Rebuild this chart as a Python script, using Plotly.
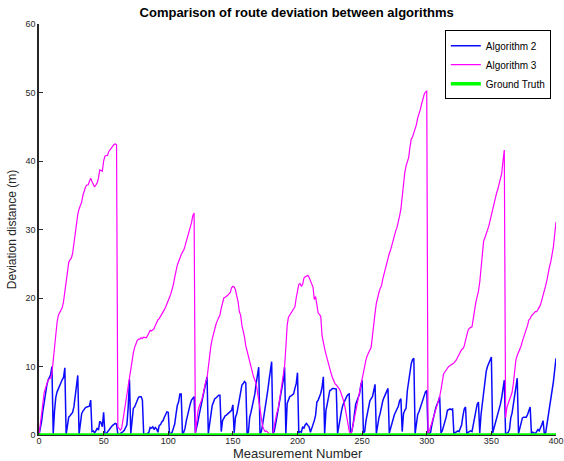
import plotly.graph_objects as go

measurement = list(range(0, 401))

algorithm2 = [0.0,
    0.8, 2.0, 3.5, 5.0, 6.3, 7.2, 8.0, 8.3, 8.8, 10.0,
    0.2, 3.5, 5.5, 6.3, 6.8, 7.1, 7.5, 8.1, 8.4, 9.8,
    0.1, 1.5, 2.6, 2.8, 3.1, 3.3, 4.1, 5.5, 6.8, 8.7,
    0.1, 1.8, 3.1, 3.5, 3.8, 4.0, 4.1, 4.1, 4.2, 5.1,
    0.5, 0.6, 0.3, 0.6, 1.0, 0.7, 2.0, 1.8, 1.2, 3.3,
    0.2, 0.2, 0.5, 0.8, 1.0, 1.2, 1.4, 1.6, 1.7, 1.6,
    0.1, 0.1, 0.2, 0.3, 0.5, 0.7, 1.0, 1.5, 4.0, 8.1,
    0.2, 2.0, 3.9, 4.1, 4.6, 5.1, 5.5, 5.6, 5.6, 5.1,
    0.1, 0.1, 0.1, 0.2, 0.4, 1.1, 1.0, 1.2, 0.8, 1.1,
    0.9, 0.4, 1.4, 1.5, 1.9, 2.1, 2.6, 3.0, 3.4, 3.3,
    0.1, 0.2, 0.4, 1.0, 1.6, 3.0, 4.3, 4.8, 6.0, 6.0,
    0.1, 0.4, 1.0, 2.1, 3.0, 3.9, 4.5, 5.1, 5.3, 5.6,
    0.3, 1.0, 2.0, 3.0, 4.0, 5.0, 6.0, 7.0, 7.8, 8.5,
    0.2, 1.5, 3.1, 4.3, 4.8, 5.3, 5.4, 5.6, 5.8, 5.8,
    0.5, 2.1, 2.6, 2.8, 2.9, 3.1, 3.3, 3.4, 3.6, 4.4,
    0.3, 2.6, 3.1, 4.1, 5.3, 6.5, 7.3, 7.5, 7.8, 7.6,
    0.2, 0.4, 2.6, 3.3, 4.1, 5.1, 6.0, 7.5, 8.5, 9.9,
    0.1, 0.5, 1.5, 2.6, 3.8, 5.1, 6.5, 8.0, 9.5, 10.7,
    0.2, 0.5, 1.5, 2.6, 3.6, 4.5, 5.6, 6.5, 8.0, 9.9,
    0.2, 4.6, 5.0, 5.6, 5.7, 5.8, 6.0, 6.8, 7.5, 9.1,
    0.3, 0.5, 0.4, 1.2, 1.0, 1.5, 1.7, 1.4, 1.2, 0.4,
    0.9, 1.5, 2.1, 2.9, 4.8, 5.1, 5.5, 6.1, 7.0, 8.5,
    0.2, 3.6, 4.5, 5.8, 6.5, 6.6, 6.8, 6.8, 6.8, 6.7,
    0.2, 1.5, 2.9, 3.5, 4.3, 4.8, 5.2, 5.6, 5.9, 6.0,
    0.1, 0.5, 1.5, 3.0, 4.5, 5.0, 5.4, 6.0, 7.3, 8.0,
    0.3, 0.5, 2.1, 3.0, 4.2, 5.0, 5.3, 5.6, 6.5, 7.4,
    0.2, 1.5, 2.5, 3.2, 4.2, 5.0, 5.5, 6.0, 6.5, 6.8,
    0.3, 1.0, 2.0, 2.6, 3.0, 3.4, 3.8, 4.2, 5.0, 5.3,
    0.5, 3.1, 3.6, 3.9, 6.5, 8.0, 9.5, 10.4, 11.0, 11.2,
    0.2, 1.3, 3.0, 3.4, 4.0, 4.6, 5.0, 5.7, 6.3, 6.5,
    0.1, 0.2, 0.4, 1.5, 2.5, 3.5, 4.0, 4.5, 4.9, 5.6,
    0.3, 0.6, 1.2, 2.0, 2.6, 3.6, 3.7, 3.8, 3.7, 3.8,
    0.2, 0.3, 0.5, 0.6, 0.5, 1.0, 1.5, 2.8, 3.8, 4.1,
    0.1, 0.4, 0.5, 0.6, 0.5, 1.5, 2.5, 3.5, 4.5, 4.8,
    0.3, 3.0, 4.5, 6.5, 8.0, 9.3, 10.0, 10.5, 11.0, 11.4,
    0.3, 1.0, 1.5, 2.3, 3.0, 3.6, 4.5, 5.5, 6.8, 8.0,
    0.1, 0.2, 0.4, 0.8, 2.5, 3.2, 4.5, 5.8, 7.0, 8.3,
    0.2, 1.0, 2.0, 2.5, 2.6, 2.6, 2.6, 3.0, 3.5, 4.1,
    0.2, 0.4, 0.3, 0.2, 0.5, 0.8, 0.6, 1.0, 1.5, 2.1,
    0.1, 0.3, 1.5, 3.0, 4.5, 5.5, 6.5, 7.8, 9.5, 11.2,
]

algorithm3 = [0.0,
    1.8, 3.5, 5.0, 6.2, 6.8, 7.5, 8.0, 8.2, 8.3, 9.0,
    11.0, 12.5, 14.5, 16.5, 17.5, 17.9, 18.2, 18.6, 19.5, 21.0,
    22.6, 24.0, 25.2, 25.6, 25.8, 26.5, 28.0, 30.0, 31.5, 32.2,
    33.0, 33.5, 34.0, 35.0, 35.8, 36.2, 36.5, 36.5, 37.0, 37.5,
    37.0, 36.5, 36.2, 36.5, 36.8, 37.5, 38.7, 38.6, 38.5, 40.0,
    40.7, 40.8, 40.8, 41.4, 41.7, 42.0, 42.1, 42.4, 42.5, 42.4,
    1.2, 1.0, 0.7, 1.0, 2.3, 3.5, 4.5, 5.5, 7.0, 8.5,
    9.8, 10.8, 12.0, 12.8, 13.4, 13.8, 14.0, 14.0, 14.2, 14.1,
    14.3, 14.3, 14.2, 14.5, 15.0, 15.3, 15.2, 15.3, 15.5, 16.0,
    16.5, 16.8, 17.0, 17.3, 17.6, 18.0, 18.3, 18.7, 19.1, 19.6,
    20.1, 20.6, 21.2, 22.0, 23.0, 24.0, 24.8, 25.3, 25.9, 26.3,
    26.7, 27.0, 27.6, 28.3, 28.8, 29.4, 30.0, 31.0, 32.0, 32.4,
    0.3, 2.0, 3.5, 4.2, 4.6, 5.2, 6.0, 7.0, 7.8, 8.3,
    10.0, 12.0, 13.0, 14.0, 14.8, 15.5, 16.2, 16.7, 17.1, 17.5,
    18.5, 19.5, 20.0, 20.1, 20.2, 20.4, 20.6, 20.8, 21.5, 21.7,
    21.6, 21.2, 20.3, 19.5, 18.0, 17.5, 16.0, 15.2, 14.3, 13.0,
    12.2, 11.3, 10.6, 10.0, 9.2, 8.5, 8.0, 7.5, 6.3, 5.0,
    3.8, 2.5, 1.3, 0.8, 0.5, 0.6, 0.3, 0.2, 0.1, 0.0,
    0.3, 1.5, 2.5, 3.2, 3.8, 5.0, 6.5, 8.0, 9.0, 10.0,
    12.8, 16.0, 17.2, 17.5, 17.7, 18.0, 18.3, 18.7, 20.0, 21.4,
    22.0, 22.1, 21.7, 22.0, 22.9, 23.1, 23.2, 23.3, 23.0, 22.6,
    22.2, 21.6, 19.8, 20.2, 19.0, 17.8, 17.6, 17.3, 14.5, 13.2,
    12.6, 11.8, 11.0, 10.4, 9.6, 9.0, 8.4, 7.9, 7.5, 7.3,
    7.1, 6.8, 6.5, 6.0, 5.5, 4.8, 3.8, 2.8, 1.5, 0.6,
    0.2, 0.5, 1.5, 2.5, 3.5, 4.3, 5.2, 6.2, 7.3, 8.3,
    9.3, 10.2, 11.0, 11.6, 12.0, 12.3, 12.8, 14.5, 16.5, 17.8,
    19.2, 20.2, 20.8, 21.4, 21.8, 22.8, 23.6, 24.3, 25.2, 25.8,
    26.5, 27.0, 27.8, 28.6, 29.3, 29.8, 30.3, 31.0, 32.0, 33.0,
    35.0, 36.8, 38.3, 39.3, 39.8, 40.5, 42.0, 43.2, 43.5, 44.0,
    44.6, 45.3, 46.3, 46.8, 47.5, 48.3, 49.2, 49.7, 50.1, 50.2,
    0.3, 0.6, 1.2, 1.8, 2.4, 3.2, 3.9, 4.5, 5.0, 5.6,
    6.6, 8.0, 8.9, 9.2, 9.5, 9.9, 10.0, 10.1, 10.3, 10.4,
    10.5, 10.7, 11.0, 11.4, 11.8, 12.3, 12.5, 12.6, 13.0, 13.8,
    14.8, 15.3, 15.6, 15.7, 15.8, 17.0, 18.5, 19.4, 20.2, 21.0,
    22.3, 24.0, 26.5, 28.3, 28.8, 29.3, 29.7, 30.5, 31.3, 32.2,
    33.0, 33.8, 34.6, 35.3, 35.9, 36.6, 37.3, 38.2, 40.0, 41.6,
    2.5, 4.0, 4.6, 5.1, 5.6, 6.2, 7.5, 9.5, 11.0, 11.6,
    12.0, 12.5, 13.0, 13.7, 14.2, 14.8, 15.2, 16.0, 16.8, 17.0,
    17.4, 17.7, 17.8, 18.0, 18.0, 18.3, 18.6, 19.0, 19.7, 20.3,
    21.0, 21.8, 22.6, 23.8, 24.6, 25.3, 26.2, 27.5, 29.3, 31.1,
]

ground_truth = [0.0] * len(measurement)

x_ticks = [0, 50, 100, 150, 200, 250, 300, 350, 400]
y_ticks = [0, 10, 20, 30, 40, 50, 60]

FONT = "Liberation Sans, Arial, Helvetica, sans-serif"

fig = go.Figure()
fig.add_trace(go.Scatter(x=measurement, y=algorithm2, mode="lines", name="Algorithm 2",
                         line=dict(color="#0a0aff", width=1.5)))
fig.add_trace(go.Scatter(x=measurement, y=algorithm3, mode="lines", name="Algorithm 3",
                         line=dict(color="#ff00ff", width=1.2)))
fig.add_trace(go.Scatter(x=measurement, y=ground_truth, mode="lines", name="Ground Truth",
                         line=dict(color="#00ff00", width=3.5), cliponaxis=False))

fig.update_layout(
    width=564, height=461,
    margin=dict(l=39, r=8, t=24, b=26, autoexpand=False),
    paper_bgcolor="white", plot_bgcolor="white",
    font=dict(family=FONT, size=10, color="#262626"),
    title=dict(text="<b>Comparison of route deviation between algorithms</b>",
               x=0.526, xanchor="center", y=0.972, yanchor="middle",
               font=dict(family=FONT, size=13, color="black")),
    showlegend=True,
    legend=dict(x=0.99, y=0.985, xanchor="right", yanchor="top",
                bgcolor="white", bordercolor="black", borderwidth=1,
                font=dict(family=FONT, size=10, color="black"),
                itemwidth=30, tracegroupgap=0),
    xaxis=dict(range=[0, 400], tickvals=x_ticks, ticks="inside", ticklen=4,
               tickcolor="#262626", showline=True, linecolor="#262626", linewidth=1,
               showgrid=False, zeroline=False, tickfont=dict(size=9), automargin=False,
               ticklabelstandoff=-3, ticklabeloverflow="allow"),
    yaxis=dict(range=[0, 60], tickvals=y_ticks, ticks="inside", ticklen=4,
               tickcolor="#262626", showline=True, linecolor="#262626", linewidth=1.5,
               showgrid=False, zeroline=False, tickfont=dict(size=9), automargin=False,
               title=dict(text="Deviation distance (m)", standoff=6,
                          font=dict(family=FONT, size=12, color="#262626"))),
    annotations=[dict(text="Measurement Number", xref="paper", yref="paper",
                      x=0.5, y=-0.046, xanchor="center", yanchor="middle",
                      showarrow=False, font=dict(family=FONT, size=13, color="#262626"))],
)

fig.write_html("out.html")
